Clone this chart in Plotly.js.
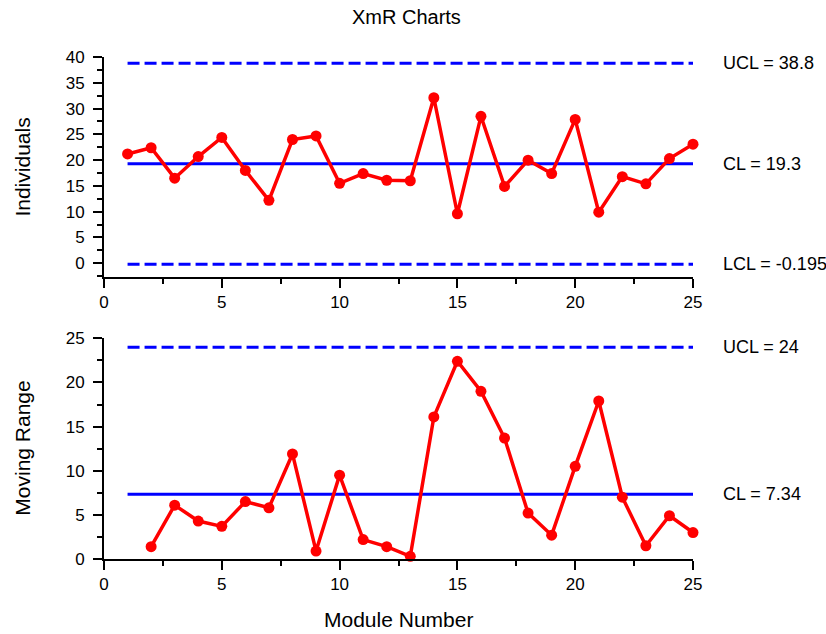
<!DOCTYPE html>
<html>
<head>
<meta charset="utf-8">
<script src="https://cdn.plot.ly/plotly-3.0.1.min.js"></script>
<style>html,body{margin:0;padding:0;background:#fff;}</style>
</head>
<body>
<div id="chart" style="width:826px;height:634px;"></div>
<script>
const moduleNumber = [1,2,3,4,5,6,7,8,9,10,11,12,13,14,15,16,17,18,19,20,21,22,23,24,25];
const individuals = [21.2,22.4,16.5,20.7,24.4,18.0,12.2,24.0,24.7,15.5,17.4,16.1,16.0,32.1,9.6,28.5,14.9,20.0,17.4,27.9,9.9,16.8,15.4,20.3,23.1];
const mrModule = [2,3,4,5,6,7,8,9,10,11,12,13,14,15,16,17,18,19,20,21,22,23,24,25];
const movingRange = [1.4,6.1,4.3,3.7,6.5,5.8,11.9,0.9,9.5,2.2,1.4,0.3,16.1,22.4,19.0,13.7,5.2,2.7,10.5,17.9,7.0,1.5,4.9,3.0];
const xUCL = 38.8, xCL = 19.3, xLCL = -0.195;
const mrUCL = 24, mrCL = 7.34;
const limitSpan = [1, 25];
const xTicks = [0,5,10,15,20,25];

const FONT = 'Liberation Sans, Arial, sans-serif';
const RED = '#ff0000', BLUE = '#0000ff';

function dataTrace(x, y, xa, ya) {
  return {x: x, y: y, xaxis: xa, yaxis: ya, type: 'scatter', mode: 'lines+markers',
    line: {color: RED, width: 3.5}, marker: {color: RED, size: 11}, cliponaxis: false,
    hoverinfo: 'x+y', showlegend: false};
}
function limitTrace(v, dash, xa, ya) {
  return {x: limitSpan, y: [v, v], xaxis: xa, yaxis: ya, type: 'scatter', mode: 'lines',
    line: {color: BLUE, width: 3, dash: dash}, cliponaxis: false, showlegend: false, hoverinfo: 'y'};
}

const traces = [
  limitTrace(xUCL, '12px,5px', 'x', 'y'),
  limitTrace(xCL, 'solid', 'x', 'y'),
  limitTrace(xLCL, '12px,5px', 'x', 'y'),
  dataTrace(moduleNumber, individuals, 'x', 'y'),
  limitTrace(mrUCL, '12px,5px', 'x2', 'y2'),
  limitTrace(mrCL, 'solid', 'x2', 'y2'),
  dataTrace(mrModule, movingRange, 'x2', 'y2')
];

const axisCommon = {
  showline: true, linecolor: '#000', linewidth: 2, mirror: false,
  ticks: 'outside', ticklen: 9, tickwidth: 2, tickcolor: '#000',
  showgrid: false, zeroline: false,
  tickfont: {family: FONT, size: 17, color: '#000'},
  minor: {ticks: 'outside', ticklen: 5, tickwidth: 2, tickcolor: '#000', dtick: 2.5, showgrid: false}
};

function lbl(text, yref, y) {
  return {text: text, xref: 'paper', yref: yref, x: 1.047, y: y, xanchor: 'left', yanchor: 'middle',
    showarrow: false, font: {family: FONT, size: 18, color: '#000'}};
}

const layout = {
  width: 826, height: 634,
  margin: {l: 104, r: 133, t: 57, b: 75},
  paper_bgcolor: '#fff', plot_bgcolor: '#fff',
  title: {text: 'XmR Charts', font: {family: FONT, size: 20, color: '#000'},
    xref: 'container', yref: 'container', x: 0.492, y: 0.973, xanchor: 'center', yanchor: 'middle'},
  xaxis: Object.assign({}, axisCommon, {domain: [0, 1], anchor: 'y', range: [0, 25], tickvals: xTicks}),
  yaxis: Object.assign({}, axisCommon, {domain: [0.5624, 1], anchor: 'x', range: [-2.6, 40], dtick: 5, tick0: 0, ticklabelstandoff: 5}),
  xaxis2: Object.assign({}, axisCommon, {domain: [0, 1], anchor: 'y2', range: [0, 25], tickvals: xTicks}),
  yaxis2: Object.assign({}, axisCommon, {domain: [0, 0.4396], anchor: 'x2', range: [0, 25], dtick: 5, tick0: 0, ticklabelstandoff: 5}),
  annotations: [
    lbl('UCL = ' + xUCL, 'y', xUCL),
    lbl('CL = ' + xCL, 'y', xCL),
    lbl('LCL = ' + xLCL, 'y', xLCL),
    lbl('UCL = ' + mrUCL, 'y2', mrUCL),
    lbl('CL = ' + mrCL, 'y2', mrCL),
    {text: 'Individuals', xref: 'paper', yref: 'paper', x: -0.139, y: 0.78, textangle: -90,
      xanchor: 'center', yanchor: 'middle', showarrow: false, font: {family: FONT, size: 21, color: '#000'}},
    {text: 'Moving Range', xref: 'paper', yref: 'paper', x: -0.139, y: 0.22, textangle: -90,
      xanchor: 'center', yanchor: 'middle', showarrow: false, font: {family: FONT, size: 21, color: '#000'}},
    {text: 'Module Number', xref: 'paper', yref: 'paper', x: 0.5, y: -0.12, xanchor: 'center', yanchor: 'middle',
      showarrow: false, font: {family: FONT, size: 21, color: '#000'}}
  ]
};

Plotly.newPlot('chart', traces, layout, {displayModeBar: false, staticPlot: true});
</script>
</body>
</html>
